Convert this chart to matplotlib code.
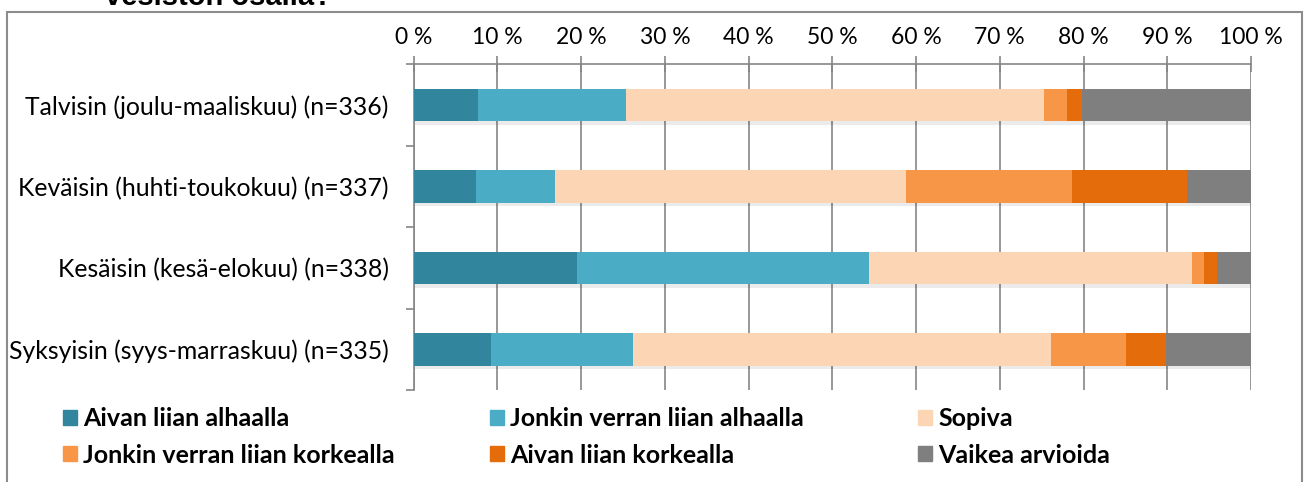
import matplotlib.pyplot as plt
import matplotlib.patches as mpatches
import matplotlib.patheffects as pe
import numpy as np

categories = ['Talvisin (joulu-maaliskuu) (n=336)',
              'Keväisin (huhti-toukokuu) (n=337)',
              'Kesäisin (kesä-elokuu) (n=338)',
              'Syksyisin (syys-marraskuu) (n=335)']
series = ['Aivan liian alhaalla', 'Jonkin verran liian alhaalla', 'Sopiva',
          'Jonkin verran liian korkealla', 'Aivan liian korkealla', 'Vaikea arvioida']
aivan_alhaalla = [7.7, 7.4, 19.5, 9.2]
jonkin_alhaalla = [17.6, 9.5, 34.9, 17.0]
sopiva = [50.0, 41.9, 38.6, 49.9]
jonkin_korkealla = [2.7, 19.8, 1.4, 9.0]
aivan_korkealla = [1.8, 13.7, 1.5, 4.7]
vaikea = [20.2, 7.7, 4.1, 10.2]
colors = ['#31859C', '#4BACC6', '#FCD5B5', '#F79646', '#E46C0A', '#7F7F7F']
xticks = [0, 10, 20, 30, 40, 50, 60, 70, 80, 90, 100]

data = [aivan_alhaalla, jonkin_alhaalla, sopiva, jonkin_korkealla, aivan_korkealla, vaikea]

W, H = 1306, 482
fig = plt.figure(figsize=(W / 100, H / 100), dpi=100)
ax = fig.add_axes([413.7 / W, 1 - 390 / H, (1251 - 413.7) / W, (390 - 64.3) / H])

y = np.arange(len(categories))
left = np.zeros(len(categories))
shadow = [pe.SimplePatchShadow(offset=(1, -2.5), shadow_rgbFace='#000000', alpha=0.08), pe.Normal()]
handles = []
for vals, name, c in zip(data, series, colors):
    bars = ax.barh(y, vals, left=left, height=0.4, color=c, label=name, zorder=3)
    for b in bars:
        b.set_path_effects(shadow)
    handles.append(mpatches.Patch(color=c, label=name))
    left += np.array(vals)

ax.set_xlim(0, 100)
ax.set_ylim(len(categories) - 0.5, -0.5)
ax.xaxis.tick_top()
ax.set_xticks(xticks)
ax.set_xticklabels([f'{t} %' for t in xticks], fontsize=16.5, family='Lato')
ax.tick_params(axis='x', direction='inout', length=12, width=1.2, color='#868686', pad=6)
ax.grid(axis='x', color='#868686', linewidth=1.2, zorder=0)
ax.set_axisbelow(True)

ax.set_yticks(y)
ax.set_yticklabels(categories, fontsize=17.8, family='Lato')
ax.set_yticks(np.arange(-0.5, len(categories)), minor=True)
ax.tick_params(axis='y', which='major', length=0, pad=18)
ax.tick_params(axis='y', which='minor', length=6, width=1.2, color='#868686')

for s in ['right', 'bottom']:
    ax.spines[s].set_visible(False)
for s in ['top', 'left']:
    ax.spines[s].set_color('#868686')
    ax.spines[s].set_linewidth(1.2)

# legend, three columns of two
col_x = [53 / W, 480 / W, 908 / W]
for i in range(3):
    leg = fig.legend(handles=[handles[i], handles[i + 3]], loc='upper left',
                     bbox_to_anchor=(col_x[i], 1 - 397 / H), frameon=False,
                     handlelength=0.55, handleheight=0.55, handletextpad=0.25,
                     labelspacing=0.55, borderaxespad=0,
                     prop={'family': 'Lato', 'weight': 'bold', 'size': 18})

# outer frame and clipped title
fig.patches.append(mpatches.Rectangle((7 / W, -0.05), (1302 - 7) / W, 1.05 - 12 / H,
                                      transform=fig.transFigure, fill=False,
                                      edgecolor='#8c8c8c', linewidth=1.5))
fig.text(105 / W, 1 - 5 / H, 'vesistön osalla?', fontsize=21, fontweight='bold',
         family='Liberation Sans', va='baseline')

fig.savefig('out.png', dpi=100)
